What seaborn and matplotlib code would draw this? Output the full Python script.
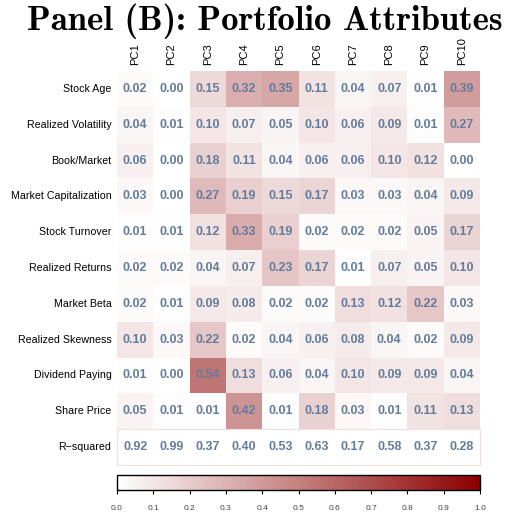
import numpy as np
import pandas as pd
import matplotlib
matplotlib.use("Agg")
import matplotlib.pyplot as plt
from matplotlib.colors import LinearSegmentedColormap, ListedColormap
import seaborn as sns

rows = ["Stock Age", "Realized Volatility", "Book/Market", "Market Capitalization",
        "Stock Turnover", "Realized Returns", "Market Beta", "Realized Skewness",
        "Dividend Paying", "Share Price", "R\u2212squared"]
cols = ["PC1", "PC2", "PC3", "PC4", "PC5", "PC6", "PC7", "PC8", "PC9", "PC10"]

stock_age    = [0.02, 0.00, 0.15, 0.32, 0.35, 0.11, 0.04, 0.07, 0.01, 0.39]
realized_vol = [0.04, 0.01, 0.10, 0.07, 0.05, 0.10, 0.06, 0.09, 0.01, 0.27]
book_market  = [0.06, 0.00, 0.18, 0.11, 0.04, 0.06, 0.06, 0.10, 0.12, 0.00]
market_cap   = [0.03, 0.00, 0.27, 0.19, 0.15, 0.17, 0.03, 0.03, 0.04, 0.09]
turnover     = [0.01, 0.01, 0.12, 0.33, 0.19, 0.02, 0.02, 0.02, 0.05, 0.17]
returns      = [0.02, 0.02, 0.04, 0.07, 0.23, 0.17, 0.01, 0.07, 0.05, 0.10]
beta         = [0.02, 0.01, 0.09, 0.08, 0.02, 0.02, 0.13, 0.12, 0.22, 0.03]
skewness     = [0.10, 0.03, 0.22, 0.02, 0.04, 0.06, 0.08, 0.04, 0.02, 0.09]
dividend     = [0.01, 0.00, 0.54, 0.13, 0.06, 0.04, 0.10, 0.09, 0.09, 0.04]
share_price  = [0.05, 0.01, 0.01, 0.42, 0.01, 0.18, 0.03, 0.01, 0.11, 0.13]
r_squared    = [0.92, 0.99, 0.37, 0.40, 0.53, 0.63, 0.17, 0.58, 0.37, 0.28]

df = pd.DataFrame([stock_age, realized_vol, book_market, market_cap, turnover,
                   returns, beta, skewness, dividend, share_price, r_squared],
                  index=rows, columns=cols)

W, H = 529, 518
fig = plt.figure(figsize=(W / 100, H / 100), dpi=100)
ax = fig.add_axes([117 / W, 1 - 465 / H, 363 / W, 394 / H])
cax = fig.add_axes([117 / W, 1 - 490 / H, 363 / W, 15 / H])

cmap = LinearSegmentedColormap.from_list("wr", ["#ffffff", "#8b0000"])
txt_color = "#637c9a"
annot_kws = dict(color=txt_color, fontsize=9, fontweight="bold", family="Liberation Sans")

mask_main = np.zeros(df.shape, dtype=bool)
mask_main[-1, :] = True
sns.heatmap(df, mask=mask_main, cmap=cmap, vmin=0, vmax=1, annot=True, fmt=".2f",
            annot_kws=annot_kws, ax=ax, cbar_ax=cax,
            cbar_kws=dict(orientation="horizontal", ticks=np.arange(0, 1.01, 0.1)))
sns.heatmap(df, mask=~mask_main, cmap=ListedColormap(["#ffffff"]), annot=True, fmt=".2f",
            annot_kws=annot_kws, ax=ax, cbar=False, linewidths=0)

# faint border around R-squared row
n = len(rows)
ax.plot([0, 10, 10, 0, 0], [n - 1, n - 1, n, n, n - 1], color="#f3dede", lw=0.8, clip_on=False)

ax.xaxis.tick_top()
ax.set_xticklabels(cols, rotation=90, fontsize=8, family="Liberation Sans")
ax.set_yticklabels(rows, rotation=0, fontsize=7.7, family="Liberation Sans")
ax.tick_params(length=0, pad=4)
ax.set_xlabel("")
ax.set_ylabel("")

cb = ax.collections[0].colorbar
cb.outline.set_edgecolor("black")
cb.outline.set_linewidth(1.0)
cax.tick_params(axis="x", length=3, width=0.8, color="black", labelsize=6,
                labelcolor="#444444", pad=8)
cax.set_xticklabels([f"{v:.1f}" for v in np.arange(0, 1.01, 0.1)], family="Liberation Sans")

fig.text(0.5, 1 - 30 / H, "Panel (B): Portfolio Attributes", ha="center", va="baseline",
         family="cmb10", fontsize=25)

fig.savefig("out.png", dpi=100)
